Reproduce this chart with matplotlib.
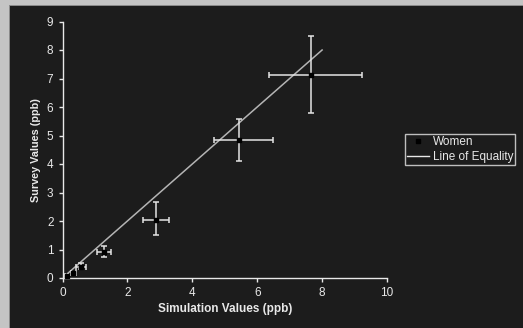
import matplotlib.pyplot as plt
from matplotlib.patches import Rectangle
from matplotlib.lines import Line2D

plt.rcParams['font.family'] = ['Liberation Sans', 'DejaVu Sans']

# Women: survey vs simulation values (ppb)
sim_x = [7.65, 5.44, 2.87, 1.29, 0.57, 0.33, 0.13]
survey_y = [7.13, 4.84, 2.05, 0.92, 0.40, 0.17, 0.08]
x_err_lo = [1.29, 0.76, 0.40, 0.24, 0.15, 0.08, 0.04]
x_err_hi = [1.57, 1.05, 0.41, 0.20, 0.15, 0.08, 0.04]
y_err_lo = [1.34, 0.75, 0.55, 0.19, 0.10, 0.05, 0.03]
y_err_hi = [1.36, 0.73, 0.61, 0.21, 0.12, 0.05, 0.03]

equality_x = [0, 8]
equality_y = [0, 8]

bg = '#1c1c1c'
fg = '#e8e8e8'

fig = plt.figure(figsize=(5.23, 3.28), dpi=100, facecolor=bg)

# gray window border on left / top
fig.patches.append(Rectangle((0, 0), 10 / 523, 1, transform=fig.transFigure,
                             facecolor='#c4c4c4', edgecolor='none'))
fig.patches.append(Rectangle((0, 1 - 6 / 328), 1, 6 / 328, transform=fig.transFigure,
                             facecolor='#c4c4c4', edgecolor='none'))
fig.patches.append(Rectangle((9 / 523, 0), 1.2 / 523, 1 - 5 / 328, transform=fig.transFigure,
                             facecolor='#8a8a8a', edgecolor='none'))
fig.patches.append(Rectangle((9 / 523, 1 - 6.2 / 328), 1, 1.2 / 328, transform=fig.transFigure,
                             facecolor='#8a8a8a', edgecolor='none'))

ax = fig.add_axes([62.5 / 523, 50 / 328, 324.5 / 523, 256.5 / 328])
ax.set_facecolor(bg)

ax.errorbar(sim_x, survey_y, xerr=[x_err_lo, x_err_hi], yerr=[y_err_lo, y_err_hi],
            fmt='s', color='black', markersize=3, ecolor='#e4e4e4', elinewidth=1.1,
            capsize=2.5, capthick=1.1, zorder=3)
ax.plot(equality_x, equality_y, color='#b4b4b4', lw=1.1, zorder=2)

ax.set_xlim(0, 10)
ax.set_ylim(0, 9)
ax.set_xticks(range(0, 11, 2))
ax.set_yticks(range(0, 10))

for side in ['top', 'right']:
    ax.spines[side].set_visible(False)
for side in ['left', 'bottom']:
    ax.spines[side].set_color(fg)
    ax.spines[side].set_linewidth(1)
ax.tick_params(colors=fg, labelsize=8.5, length=3, width=1, direction='out')

ax.set_xlabel('Simulation Values (ppb)', color=fg, fontsize=8.5, fontweight='bold', labelpad=3)
ax.set_ylabel('Survey Values (ppb)', color=fg, fontsize=7.8, fontweight='bold', labelpad=4)

handles = [Line2D([], [], ls='none', marker='s', markersize=3, color='black'),
           Line2D([], [], color=fg, lw=1)]
leg = ax.legend(handles, ['Women', 'Line of Equality'], loc='upper left',
                bbox_to_anchor=(405 / 523, 1 - 134 / 328),
                bbox_transform=fig.transFigure, fontsize=8.5, frameon=True, fancybox=False,
                facecolor=bg, edgecolor=fg, labelcolor=fg, handlelength=1.9,
                handletextpad=0.3, borderpad=0.15, labelspacing=0.3, borderaxespad=0)
leg.get_frame().set_linewidth(1)

fig.savefig('out.png', dpi=100, facecolor=bg)
